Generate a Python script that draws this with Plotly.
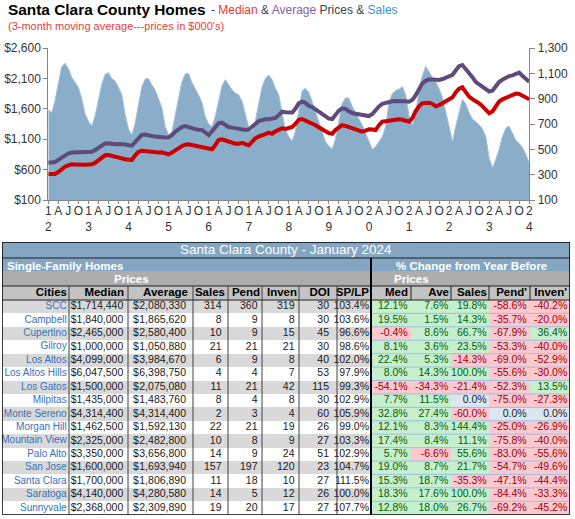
import pandas as pd
import plotly.graph_objects as go

W, H = 575, 519

# ---------------- chart data (monthly, Jan 2012 - Jan 2024) ----------------
months = pd.date_range("2012-01-01", periods=145, freq="MS")

sales = [
    810, 790, 880, 1030, 1150, 1180, 1140, 1070, 1030, 990, 900, 780,      # 2012
    720, 685, 760, 880, 1010, 1090, 1105, 1060, 1040, 990, 930, 780,       # 2013
    660, 615, 700, 850, 990, 1055, 1060, 1010, 970, 900, 830, 680,         # 2014
    615, 640, 760, 900, 1030, 1095, 1100, 1030, 985, 930, 870, 760,        # 2015
    700, 680, 760, 880, 1000, 1050, 1010, 970, 945, 930, 880, 780,         # 2016
    670, 640, 720, 860, 990, 1060, 1087, 1050, 980, 930, 800, 650,         # 2017
    600, 565, 640, 820, 960, 982, 950, 880, 800, 720, 630, 560,            # 2018
    525, 505, 580, 720, 860, 905, 905, 840, 790, 745, 690, 626,            # 2019
    560, 500, 520, 565, 600, 680, 870, 940, 965, 975, 994, 930,            # 2020
    760, 690, 780, 960, 1080, 1155, 1110, 1070, 1030, 980, 910, 790,       # 2021
    680, 560, 680, 780, 895, 860, 790, 740, 715, 695, 660, 600,            # 2022
    430, 355, 420, 500, 600, 666, 684, 620, 570, 547, 515, 460,            # 2023
    390,                                                                   # 2024
]

median_price = [
    527, 525, 527, 560, 610, 648, 670, 687, 685, 680, 676, 680,
    685, 687, 710, 758, 800, 835, 840, 830, 812, 800, 785, 770,
    765, 758, 830, 890, 911, 905, 890, 878, 880, 882, 884, 870,
    851, 880, 920, 950, 985, 1010, 1016, 1005, 995, 988, 980, 966,
    950, 935, 1000, 1087, 1098, 1080, 1059, 1030, 1025, 1025, 1040, 1020,
    1000, 1060, 1115, 1141, 1170, 1185, 1207, 1190, 1230, 1260, 1279, 1270,
    1290, 1300, 1350, 1420, 1432, 1410, 1380, 1361, 1330, 1296, 1270, 1230,
    1200, 1190, 1250, 1300, 1330, 1320, 1300, 1280, 1263, 1230, 1225, 1240,
    1263, 1260, 1250, 1330, 1388, 1395, 1405, 1410, 1420, 1427, 1420, 1400,
    1388, 1450, 1560, 1640, 1690, 1695, 1700, 1680, 1640, 1660, 1690, 1720,
    1745, 1790, 1870, 1930, 1953, 1870, 1800, 1760, 1730, 1690, 1640, 1580,
    1526, 1560, 1630, 1720, 1756, 1780, 1800, 1820, 1850, 1843, 1810, 1790,
    1756,
]

average_price = [
    713, 715, 725, 760, 800, 840, 865, 880, 885, 885, 886, 888,
    890, 895, 920, 960, 1000, 1030, 1032, 1020, 1016, 1020, 1024, 1015,
    1000, 993, 1050, 1100, 1170, 1178, 1160, 1153, 1145, 1135, 1125, 1128,
    1130, 1165, 1220, 1260, 1300, 1317, 1295, 1280, 1265, 1255, 1251, 1210,
    1169, 1230, 1300, 1361, 1371, 1330, 1300, 1290, 1280, 1275, 1265, 1251,
    1260, 1300, 1350, 1400, 1420, 1427, 1430, 1440, 1450, 1500, 1552, 1545,
    1550, 1540, 1600, 1690, 1717, 1700, 1650, 1630, 1590, 1552, 1520, 1480,
    1440, 1432, 1500, 1570, 1608, 1600, 1560, 1530, 1520, 1510, 1500, 1497,
    1481, 1514, 1580, 1640, 1680, 1700, 1717, 1725, 1730, 1733, 1730, 1725,
    1717, 1750, 1820, 1930, 2020, 2060, 2085, 2080, 2075, 2075, 2090, 2110,
    2128, 2160, 2230, 2300, 2320, 2260, 2200, 2120, 2040, 2000, 1960, 1910,
    1885, 1900, 1980, 2040, 2080, 2120, 2139, 2150, 2180, 2194, 2140, 2100,
    2045,
]

price_ticks = [100, 600, 1100, 1600, 2100, 2600]
sales_ticks = [100, 300, 500, 700, 900, 1100, 1300]

# ---------------- table data ----------------
table_title = "Santa Clara County - January 2024"
headers = ["Cities", "Median", "Average", "Sales", "Pend", "Inven", "DOI", "SP/LP",
           "Med", "Ave", "Sales", "Pend'", "Inven'"]
cities = ["SCC", "Campbell", "Cupertino", "Gilroy", "Los Altos", "Los Altos Hills",
          "Los Gatos", "Milpitas", "Monte Sereno", "Morgan Hill", "Mountain View",
          "Palo Alto", "San Jose", "Santa Clara", "Saratoga", "Sunnyvale"]
median_sold = [1714440, 1840000, 2465000, 1000000, 4099000, 6047500, 1500000, 1435000,
               4314400, 1462500, 2325000, 3350000, 1600000, 1700000, 4140000, 2368000]
average_sold = [2080330, 1865620, 2580400, 1050880, 3984670, 6398750, 2075080, 1483760,
                4314400, 1592130, 2482800, 3656800, 1693940, 1806890, 4280580, 2309890]
sales_cnt = [314, 8, 10, 21, 6, 4, 11, 8, 2, 22, 10, 14, 157, 11, 14, 19]
pend_cnt = [360, 9, 9, 21, 9, 4, 21, 4, 3, 21, 8, 9, 197, 18, 5, 20]
inven_cnt = [319, 8, 15, 21, 8, 7, 42, 8, 4, 19, 9, 24, 120, 10, 12, 17]
doi = [30, 30, 45, 30, 40, 53, 115, 30, 60, 26, 27, 51, 23, 27, 26, 27]
sp_lp = [103.4, 103.6, 96.6, 98.6, 102.0, 97.9, 99.3, 102.9, 105.9, 99.0, 103.3,
         102.9, 104.7, 111.5, 100.0, 107.7]
chg_med = [12.1, 19.5, -0.4, 8.1, 22.4, 8.0, -54.1, 7.7, 32.8, 12.1, 17.4, 5.7,
           19.0, 15.3, 18.3, 12.8]
chg_ave = [7.6, 1.5, 8.6, 3.6, 5.3, 14.3, -34.3, 11.5, 27.4, 8.3, 8.4, -6.6,
           8.7, 18.7, 17.6, 18.0]
chg_sales = [19.8, 14.3, 66.7, 23.5, -14.3, 100.0, -21.4, 0.0, -60.0, 144.4, 11.1,
             55.6, 21.7, -35.3, 100.0, 26.7]
chg_pend = [-58.6, -35.7, -67.9, -53.3, -69.0, -55.6, -52.3, -75.0, 0.0, -25.0,
            -75.8, -83.0, -54.7, -47.1, -84.4, -69.2]
chg_inven = [-40.2, -20.0, 36.4, -40.0, -52.9, -30.0, 13.5, -27.3, 0.0, -26.9,
             -40.0, -55.6, -49.6, -44.4, -33.3, -45.2]

MAIN = "Arial, Liberation Sans, sans-serif"


def px(x):
    return x / W


def py(y):
    return 1 - y / H


# ---------------- chart ----------------
fig = go.Figure()

fig.add_trace(go.Scatter(
    x=months, y=sales, mode="lines", fill="tozeroy",
    line=dict(color="#a7c3d9", width=1), fillcolor="#8aadc9",
    name="Sales", xaxis="x", yaxis="y", hoverinfo="skip"))
fig.add_trace(go.Scatter(
    x=months, y=average_price, mode="lines",
    line=dict(color="#604a7b", width=4), name="Average",
    xaxis="x", yaxis="y2"))
fig.add_trace(go.Scatter(
    x=months, y=median_price, mode="lines",
    line=dict(color="#cc0000", width=4), name="Median",
    xaxis="x", yaxis="y2"))

tick_dates = months[::3]
tick_text = []
for d in tick_dates:
    if d.month == 1:
        yy = d.strftime("%y")
        tick_text.append(yy[0] + "<br>" + yy[1])
    else:
        tick_text.append({4: "A", 7: "J", 10: "O"}[d.month])

# ---------------- table (heatmap for cells + text traces) ----------------
n = len(cities)
col_edges = [2, 69, 128, 193, 228, 262, 299, 337, 371, 411, 451, 489, 530, 570]
row_h = 13.42
top_rows = [242, 258, 271, 286, 300]
row_edges = top_rows + [300 + row_h * (k + 1) for k in range(n)]
tab_bot = row_edges[-1]

palette = ["#d9d9d9", "#ffffff", "#c6efce", "#ffc7ce", "#dce6f1",
           "#c3c3c3", "#84a6c2", "#adadad"]
cscale = []
for i, c in enumerate(palette):
    cscale += [[i / len(palette), c], [(i + 1) / len(palette), c]]

chg_cols = [chg_med, chg_ave, chg_sales, chg_pend, chg_inven]


def chg_code(v):
    return 2 if v > 0 else (3 if v < 0 else 4)


def chg_font(v):
    return "#006100" if v > 0 else ("#9c0006" if v < 0 else "#1a1a1a")


ncol = len(headers)
z = [[6] * ncol, [6] * ncol, [7] * ncol, [5] * ncol]
for i in range(n):
    base = 0 if i % 2 == 0 else 1
    z.append([base] * 8 + [chg_code(col[i]) for col in chg_cols])

fig.add_trace(go.Heatmap(
    x=col_edges, y=row_edges, z=z, xaxis="x3", yaxis="y3",
    colorscale=cscale, zmin=-0.5, zmax=len(palette) - 0.5,
    showscale=False, hoverinfo="skip"))

# text right edges for each column
head_anchor = [67, 124, 188, 225, 260, 297, 330, 369, 408, 449, 487, 527, 567]
data_anchor = [66.7, 123.3, 186, 221.5, 257.5, 294.5, 329, 369, 407.7, 448.3, 486.7, 526.7, 567.3]
row_mid = [300 + row_h * (i + 0.5) for i in range(n)]

fig.add_trace(go.Scatter(
    x=head_anchor, y=[293] * ncol, text=["<b>" + h + "</b>" for h in headers],
    mode="text", textposition="middle left", xaxis="x3", yaxis="y3",
    textfont=dict(family=MAIN, size=11.5, color="#000000"),
    cliponaxis=False, hoverinfo="skip"))

cols_text = [
    cities,
    ["$" + f"{v:,}" for v in median_sold],
    [f"{v:,}" for v in average_sold],
    [str(v) for v in sales_cnt],
    [str(v) for v in pend_cnt],
    [str(v) for v in inven_cnt],
    [str(v) for v in doi],
    [f"{v:.1f}%" for v in sp_lp],
] + [[f"{v:.1f}%" for v in col] for col in chg_cols]

cols_color = [["#3572b8"] * n] + [["#1a1a1a"] * n] * 7 + \
             [[chg_font(v) for v in col] for col in chg_cols]

tx, ty, tt, tc = [], [], [], []
for j in range(1, ncol):
    for i in range(n):
        tx.append(data_anchor[j])
        ty.append(row_mid[i])
        tt.append(cols_text[j][i])
        tc.append(cols_color[j][i])

fig.add_trace(go.Scatter(
    x=[data_anchor[0]] * n, y=row_mid, text=cities,
    mode="text", textposition="middle left", xaxis="x3", yaxis="y3",
    textfont=dict(family=MAIN, size=10, color="#3572b8"),
    cliponaxis=False, hoverinfo="skip"))
fig.add_trace(go.Scatter(
    x=tx, y=ty, text=tt,
    mode="text", textposition="middle left", xaxis="x3", yaxis="y3",
    textfont=dict(family=MAIN, size=10.5, color=tc),
    cliponaxis=False, hoverinfo="skip"))
fig.add_trace(go.Scatter(
    x=[133] * n, y=row_mid, text=["$"] * n,
    mode="text", textposition="middle right", xaxis="x3", yaxis="y3",
    textfont=dict(family=MAIN, size=10.5, color="#1a1a1a"),
    cliponaxis=False, hoverinfo="skip"))

shapes = []


def seg(x0, y0, x1, y1, color, lw=1):
    shapes.append(dict(type="line", xref="x3", yref="y3",
                       x0=x0, x1=x1, y0=y0, y1=y1, layer="above",
                       line=dict(color=color, width=lw)))


seg(2, 258, 570, 258, "#1f1f1f")
seg(2, 286, 570, 286, "#1f1f1f")
seg(2, 300, 570, 300, "#1f1f1f")
for y in row_edges[5:-1]:
    seg(371, y, 570, y, "#9dbfe3")
for x in col_edges[1:8]:
    seg(x, 286, x, tab_bot, "#404040")
for x in col_edges[9:-1]:
    seg(x, 286, x, 300, "#1f1f1f")
seg(371, 258, 371, tab_bot, "#000000", 2)
shapes.append(dict(type="rect", xref="x3", yref="y3",
                   x0=2, x1=570, y0=242, y1=tab_bot,
                   layer="above", line=dict(color="#000000", width=1.5)))

annotations = [
    dict(x=px(6), y=py(10), xanchor="left", yanchor="middle",
         text="<b>Santa Clara County Homes</b>",
         font=dict(family=MAIN, size=15.4, color="#000000")),
    dict(x=px(209), y=py(10.5), xanchor="left", yanchor="middle",
         text="- <span style='color:#e03c31'>Median</span> &amp; "
              "<span style='color:#8064a2'>Average</span> Prices &amp; "
              "<span style='color:#3d8fd6'>Sales</span>",
         font=dict(family=MAIN, size=12, color="#404040")),
    dict(x=px(6), y=py(26), xanchor="left", yanchor="middle",
         text="(3-month moving average---prices in $000's)",
         font=dict(family=MAIN, size=11, color="#e8403a")),
    dict(x=px(286), y=py(250), xanchor="center", yanchor="middle",
         text=table_title, font=dict(family=MAIN, size=13.5, color="#ffffff")),
    dict(x=px(5), y=py(266), xanchor="left", yanchor="middle",
         text="<b>Single-Family Homes</b>",
         font=dict(family=MAIN, size=11.5, color="#ffffff")),
    dict(x=px(471), y=py(266), xanchor="center", yanchor="middle",
         text="<b>% Change from Year Before</b>",
         font=dict(family=MAIN, size=11.5, color="#ffffff")),
    dict(x=px(131), y=py(278.5), xanchor="center", yanchor="middle",
         text="<b>Prices</b>", font=dict(family=MAIN, size=11.5, color="#ffffff")),
    dict(x=px(411.5), y=py(278.5), xanchor="center", yanchor="middle",
         text="<b>Prices</b>", font=dict(family=MAIN, size=11.5, color="#ffffff")),
]
for a in annotations:
    a.update(xref="paper", yref="paper", showarrow=False)

axis_line = "#868686"
tick_font = dict(family=MAIN, size=12, color="#333333")
fig.update_layout(
    width=W, height=H,
    margin=dict(l=0, r=0, t=0, b=0, autoexpand=False),
    paper_bgcolor="#ffffff", plot_bgcolor="rgba(0,0,0,0)",
    font=dict(family=MAIN, size=12, color="#333333"),
    showlegend=False,
    xaxis=dict(domain=[px(48.3), px(529.3)],
               range=[months[0], months[-1]],
               tickmode="array", tickvals=list(tick_dates), ticktext=tick_text,
               tickangle=0, ticks="outside", ticklen=3, tickcolor=axis_line,
               ticklabelstandoff=-3,
               showline=True, linecolor=axis_line, showgrid=False, zeroline=False,
               automargin=False, tickfont=tick_font),
    yaxis=dict(domain=[py(200), py(48)], range=[100, 1300], side="right",
               tickmode="array", tickvals=sales_ticks,
               ticktext=[f"{v:,}" for v in sales_ticks],
               ticks="outside", ticklen=5, tickcolor=axis_line,
               showline=True, linecolor=axis_line, showgrid=False, zeroline=False,
               automargin=False, tickfont=tick_font),
    yaxis2=dict(overlaying="y", side="left", range=[100, 2600],
                tickmode="array", tickvals=price_ticks,
                ticktext=[f"${v:,}" for v in price_ticks],
                ticks="outside", ticklen=4, tickcolor=axis_line,
                showline=True, linecolor=axis_line, showgrid=False, zeroline=False,
                automargin=False, tickfont=tick_font),
    xaxis3=dict(domain=[px(2), px(570)], range=[2, 570], anchor="y3",
                visible=False, fixedrange=True),
    yaxis3=dict(domain=[py(tab_bot), py(242)], range=[tab_bot, 242], anchor="x3",
                visible=False, fixedrange=True),
    shapes=shapes,
    annotations=annotations,
)

fig.write_html("out.html", config={"displayModeBar": False},
               post_script="document.body.style.margin='0px';")
